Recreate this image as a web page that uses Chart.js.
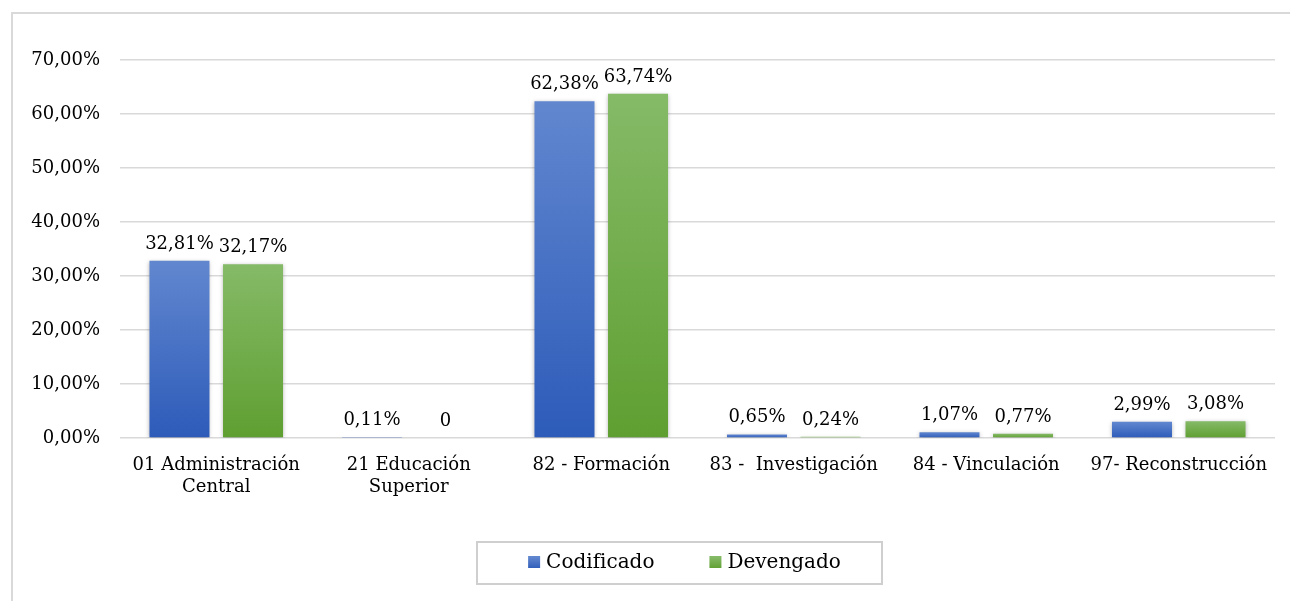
<!DOCTYPE html>
<html lang="es">
<head>
<meta charset="utf-8">
<title>Codificado vs Devengado</title>
<script src="https://cdn.jsdelivr.net/npm/chart.js@4.4.1/dist/chart.umd.min.js"></script>
<style>
  html, body { margin: 0; padding: 0; background: #ffffff; overflow: hidden; }
  #chart { display: block; }
</style>
</head>
<body>
<canvas id="chart" width="1290" height="601"></canvas>
<script>
// datos
const categories = [
  ["01 Administración", "Central"],
  ["21 Educación", "Superior"],
  "82 - Formación",
  "83 -  Investigación",
  "84 - Vinculación",
  "97- Reconstrucción"
];
const codificado = [32.81, 0.11, 62.38, 0.65, 1.07, 2.99];
const devengado = [32.17, 0, 63.74, 0.24, 0.77, 3.08];
const yTicks = [0, 10, 20, 30, 40, 50, 60, 70];

const FONT = "'DejaVu Serif', serif";
const TEXT = "#000000";

// colores: arriba claro, abajo oscuro
const blue = { top: "#6187cf", bottom: "#2d5bb9", flat: "#4472c4" };
const green = { top: "#85ba67", bottom: "#5f9f31", flat: "#70ad47" };

function fmtPct(v) {
  return v.toFixed(2).replace(".", ",") + "%";
}

// degradado por barra
function barGradient(pal) {
  return (ctx) => {
    const chart = ctx.chart;
    const y = chart.scales.y;
    if (!y || ctx.type !== "data") return pal.flat;
    const v = ctx.raw;
    const top = y.getPixelForValue(v);
    const bottom = y.getPixelForValue(0);
    if (!isFinite(top) || !isFinite(bottom) || bottom - top < 1) return pal.bottom;
    const g = chart.ctx.createLinearGradient(0, top, 0, bottom);
    g.addColorStop(0, pal.top);
    g.addColorStop(1, pal.bottom);
    return g;
  };
}

// marco exterior del gráfico
const outerFrame = {
  id: "outerFrame",
  beforeDraw(chart) {
    const c = chart.ctx;
    c.save();
    c.strokeStyle = "#d9d9d9";
    c.lineWidth = 2;
    c.beginPath();
    c.moveTo(12, chart.height + 2);
    c.lineTo(12, 13);
    c.lineTo(chart.width + 2, 13);
    c.stroke();
    c.restore();
  }
};

// sombra suave de las barras
const barShadow = {
  id: "barShadow",
  beforeDatasetsDraw(chart) {
    const c = chart.ctx;
    c.save();
    c.shadowColor = "rgba(0,0,0,0.28)";
    c.shadowBlur = 4;
    c.shadowOffsetX = 0;
    c.shadowOffsetY = 1;
  },
  afterDatasetsDraw(chart) {
    chart.ctx.restore();
  }
};

// etiquetas de valor sobre cada barra
const valueLabels = {
  id: "valueLabels",
  afterDatasetsDraw(chart) {
    const c = chart.ctx;
    c.save();
    c.font = "18px " + FONT;
    c.fillStyle = TEXT;
    c.textAlign = "center";
    c.textBaseline = "alphabetic";
    chart.data.datasets.forEach((ds, di) => {
      const meta = chart.getDatasetMeta(di);
      meta.data.forEach((bar, i) => {
        const v = ds.data[i];
        const txt = v === 0 ? "0" : fmtPct(v);
        c.fillText(txt, bar.x, bar.y - 12);
      });
    });
    c.restore();
  }
};

// leyenda con recuadro
const boxedLegend = {
  id: "boxedLegend",
  afterDraw(chart) {
    const c = chart.ctx;
    c.save();
    c.font = "20px " + FONT;
    const box = { x: 477, y: 542, w: 405, h: 42 };
    c.strokeStyle = "#cfcfcf";
    c.lineWidth = 2;
    c.strokeRect(box.x, box.y, box.w, box.h);

    const sq = 12, gapText = 6, gapItem = 55;
    const items = chart.data.datasets.map((ds) => ({
      label: ds.label,
      pal: ds.label === "Codificado" ? blue : green,
      w: c.measureText(ds.label).width
    }));
    let total = 0;
    items.forEach((it, i) => {
      total += sq + gapText + it.w + (i < items.length - 1 ? gapItem : 0);
    });
    let x = 684.5 - total / 2;
    const cy = box.y + box.h / 2;
    items.forEach((it) => {
      const g = c.createLinearGradient(0, cy - sq / 2, 0, cy + sq / 2);
      g.addColorStop(0, it.pal.top);
      g.addColorStop(1, it.pal.bottom);
      c.fillStyle = g;
      c.fillRect(x, cy - sq / 2 - 1, sq, sq);
      c.fillStyle = TEXT;
      c.textAlign = "left";
      c.textBaseline = "middle";
      c.fillText(it.label, x + sq + gapText, cy);
      x += sq + gapText + it.w + gapItem;
    });
    c.restore();
  }
};

const chart = new Chart(document.getElementById("chart"), {
  type: "bar",
  data: {
    labels: categories,
    datasets: [
      {
        label: "Codificado",
        data: codificado,
        backgroundColor: barGradient(blue),
        barPercentage: 0.816,
        categoryPercentage: 0.764
      },
      {
        label: "Devengado",
        data: devengado,
        backgroundColor: barGradient(green),
        barPercentage: 0.816,
        categoryPercentage: 0.764
      }
    ]
  },
  options: {
    responsive: false,
    animation: false,
    devicePixelRatio: 1,
    layout: { padding: { left: 0, right: 15, top: 60, bottom: 83 } },
    plugins: {
      legend: { display: false },
      tooltip: { enabled: false }
    },
    scales: {
      x: {
        grid: { display: false, drawTicks: false },
        border: { display: false },
        ticks: {
          color: TEXT,
          font: { family: FONT, size: 18 },
          padding: 17,
          maxRotation: 0,
          autoSkip: false
        },
        afterFit(scale) { scale.height = 80; }
      },
      y: {
        min: 0,
        max: 70,
        border: { display: false },
        grid: { color: "#d9d9d9", lineWidth: 1.5, drawTicks: false },
        ticks: {
          color: TEXT,
          font: { family: FONT, size: 18 },
          padding: 20,
          callback: (v) => fmtPct(v)
        },
        afterBuildTicks(scale) {
          scale.ticks = yTicks.map((v) => ({ value: v }));
        },
        afterFit(scale) { scale.width = 120; }
      }
    }
  },
  plugins: [outerFrame, barShadow, valueLabels, boxedLegend]
});
</script>
</body>
</html>
